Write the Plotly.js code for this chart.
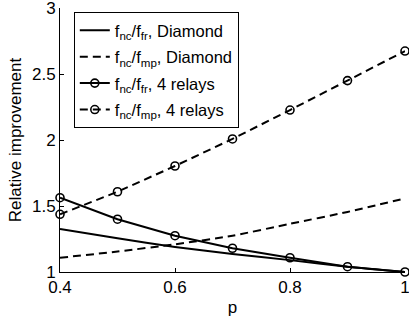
<!DOCTYPE html>
<html>
<head>
<meta charset="utf-8">
<script src="https://cdn.plot.ly/plotly-3.0.1.min.js"></script>
<style>html,body{margin:0;padding:0;background:#fff;}#chart{width:409px;height:320px;}</style>
</head>
<body>
<div id="chart"></div>
<script>
var p = [0.4, 0.5, 0.6, 0.7, 0.8, 0.9, 1.0];
var diamondFr = [1.326, 1.255, 1.19, 1.136, 1.09, 1.04, 1.0];
var diamondMp = [1.108, 1.155, 1.21, 1.275, 1.365, 1.455, 1.558];
var relayFr = [1.563, 1.40, 1.275, 1.18, 1.108, 1.04, 1.0];
var relayMp = [1.437, 1.608, 1.803, 2.008, 2.227, 2.45, 2.674];
var names = [
  'f<sub>nc</sub>/f<sub>fr</sub>, Diamond',
  'f<sub>nc</sub>/f<sub>mp</sub>, Diamond',
  'f<sub>nc</sub>/f<sub>fr</sub>, 4 relays',
  'f<sub>nc</sub>/f<sub>mp</sub>, 4 relays'
];
var xTicks = [0.4, 0.6, 0.8, 1];
var xTickText = ['0.4', '0.6', '0.8', '1'];
var yTicks = [1, 1.5, 2, 2.5, 3];
var yTickText = ['1', '1.5', '2', '2.5', '3'];

var dashStyle = '8px,5px';
var traces = [
  {x: p, y: diamondFr, name: names[0], mode: 'lines',
   line: {color: 'black', width: 2, shape: 'spline', smoothing: 0.6}},
  {x: p, y: diamondMp, name: names[1], mode: 'lines',
   line: {color: 'black', width: 2, dash: dashStyle, shape: 'spline', smoothing: 0.6}},
  {x: p, y: relayFr, name: names[2], mode: 'lines+markers',
   line: {color: 'black', width: 2},
   marker: {symbol: 'circle-open', size: 8, color: 'black', line: {width: 1.6, color: 'black'}}},
  {x: p, y: relayMp, name: names[3], mode: 'lines+markers',
   line: {color: 'black', width: 2, dash: dashStyle},
   marker: {symbol: 'circle-open', size: 8, color: 'black', line: {width: 1.6, color: 'black'}}}
];
traces.forEach(function(t, i){ t.cliponaxis = false; t.legendgroup = 'g' + i; });

var fam = 'Liberation Sans, Arial, sans-serif';
var font = {family: fam, size: 17, color: 'black'};
var layout = {
  width: 409, height: 320,
  margin: {l: 60, r: 4, t: 8, b: 48},
  paper_bgcolor: 'white', plot_bgcolor: 'white',
  font: font,
  showlegend: true,
  xaxis: {
    range: [0.4, 1], tickvals: xTicks, ticktext: xTickText,
    showline: true, linecolor: 'black', linewidth: 1, mirror: false,
    ticks: 'inside', ticklen: 4, tickcolor: 'black',
    showgrid: false, zeroline: false, ticklabeloverflow: 'allow',
    tickfont: font,
    title: {text: 'p', font: font, standoff: 4}
  },
  yaxis: {
    range: [1, 3], tickvals: yTicks, ticktext: yTickText,
    showline: true, linecolor: 'black', linewidth: 1, mirror: false,
    ticks: 'inside', ticklen: 4, tickcolor: 'black',
    showgrid: false, zeroline: false, ticklabeloverflow: 'allow',
    tickfont: font,
    title: {text: 'Relative improvement', font: font, standoff: 6}
  },
  legend: {
    x: 0.04, y: 0.985, xanchor: 'left', yanchor: 'top',
    bgcolor: 'white', bordercolor: 'black', borderwidth: 1,
    font: {family: fam, size: 16.5, color: 'black'},
    itemwidth: 30, tracegroupgap: 2, traceorder: 'grouped'
  }
};
Plotly.newPlot('chart', traces, layout, {displayModeBar: false, staticPlot: true});
</script>
</body>
</html>
